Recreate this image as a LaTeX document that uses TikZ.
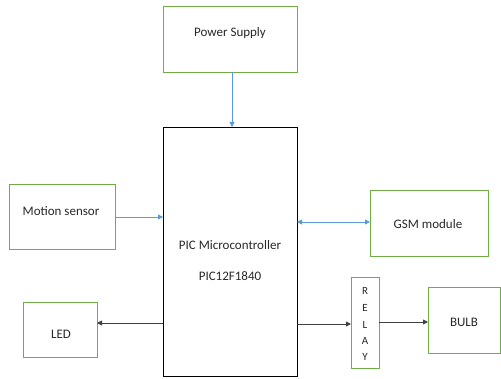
\documentclass[tikz,border=0pt]{standalone}
\usepackage{fontspec}
\setmainfont{Carlito}
\usetikzlibrary{arrows.meta}
\definecolor{boxgreen}{RGB}{112,173,71}
\definecolor{arrowblue}{RGB}{91,155,213}
\definecolor{txt}{RGB}{40,40,40}
\begin{document}
\begin{tikzpicture}[x=1pt,y=-1pt,
  gbox/.style={draw=boxgreen,line width=0.9pt,fill=white},
  lbl/.style={text=txt,font=\fontsize{13}{15}\selectfont,inner sep=0pt},
  rl/.style={text=txt,font=\fontsize{11}{13}\selectfont,inner sep=0pt},
  barrow/.style={draw=arrowblue,line width=0.8pt,-{Triangle[length=5pt,width=5pt]}},
  karrow/.style={draw=black!75,line width=0.9pt,-{Triangle[length=5pt,width=5pt]}},
  dblarrow/.style={draw=arrowblue,line width=0.8pt,{Triangle[length=5pt,width=5pt]}-{Triangle[length=5pt,width=5pt]}}]
\useasboundingbox (0,0) rectangle (501,379);
% boxes
\draw[gbox] (163,6) rectangle (297,72);
\node[lbl] (ps) at (230,33) {Power Supply};
\coordinate (psb) at (232,72);
\draw[draw=black,line width=0.9pt] (163,127) rectangle (297,376);
\node[lbl] (pic1) at (230,245) {PIC Microcontroller};
\node[lbl] (pic2) at (230,276) {PIC12F1840};
\coordinate (pictop) at (232,127);
\draw[gbox] (9,184) rectangle (115,249);
\node[lbl] (ms) at (61,211) {Motion sensor};
\coordinate (msr) at (115,217);
\coordinate (picl1) at (163,217);
\draw[gbox] (23,302) rectangle (97,357);
\node[lbl] (led) at (61,334) {LED};
\coordinate (ledr) at (97,323);
\coordinate (picl2) at (163,323);
\draw[gbox] (370,190) rectangle (488,256);
\node[lbl] (gsm) at (428,224) {GSM module};
\coordinate (gsml) at (370,222);
\coordinate (picr1) at (297,222);
\draw[gbox] (351,277) rectangle (379,368);
\node[rl] (r1) at (365,291) {R};
\node[rl] (r2) at (365,308) {E};
\node[rl] (r3) at (365,325) {L};
\node[rl] (r4) at (365,341) {A};
\node[rl] (r5) at (365,357) {Y};
\coordinate (rell) at (351,324);
\coordinate (relr) at (379,322);
\coordinate (picr2) at (297,324);
\draw[gbox] (428,287) rectangle (500.5,353);
\node[lbl] (bulb) at (464,322) {BULB};
\coordinate (bulbl) at (428,322);
% connectors
\draw[barrow] (psb) -- (pictop);
\draw[barrow] (msr) -- (picl1);
\draw[karrow] (picl2) -- (ledr);
\draw[dblarrow] (picr1) -- (gsml);
\draw[karrow] (picr2) -- (rell);
\draw[karrow] (relr) -- (bulbl);
\end{tikzpicture}
\end{document}
